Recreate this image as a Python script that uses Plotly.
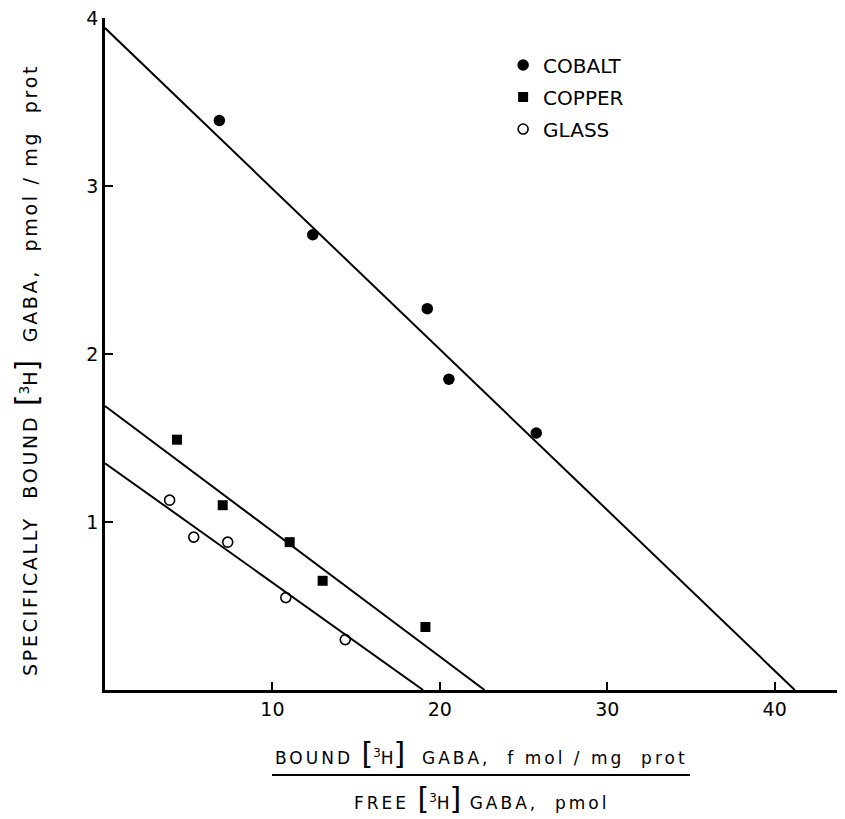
import plotly.graph_objects as go

# ---- data ----
cobalt_x = [6.83, 12.41, 19.25, 20.54, 25.76]
cobalt_y = [3.39, 2.71, 2.27, 1.85, 1.53]

copper_x = [4.30, 7.03, 11.03, 13.00, 19.14]
copper_y = [1.49, 1.10, 0.88, 0.65, 0.375]

glass_x = [3.86, 5.30, 7.33, 10.80, 14.35]
glass_y = [1.13, 0.91, 0.88, 0.55, 0.30]

# fitted lines: (y-intercept, x-intercept)
cobalt_fit = (3.94, 41.2)
copper_fit = (1.69, 22.67)
glass_fit = (1.35, 19.0)

x_ticks = [10, 20, 30, 40]
y_ticks = [1, 2, 3, 4]
x_range = [0, 44.2]
y_range = [0, 4.0]

FONT = "DejaVu Sans"
BLACK = "#000000"

fig = go.Figure()

for fit in (cobalt_fit, copper_fit, glass_fit):
    fig.add_trace(go.Scatter(
        x=[0, fit[1]], y=[fit[0], 0], mode="lines",
        line=dict(color=BLACK, width=2), showlegend=False, hoverinfo="skip"))

fig.add_trace(go.Scatter(
    x=cobalt_x, y=cobalt_y, mode="markers", name="COBALT", legendgroup="a",
    marker=dict(symbol="circle", size=11.5, color=BLACK)))
fig.add_trace(go.Scatter(
    x=copper_x, y=copper_y, mode="markers", name="COPPER", legendgroup="b",
    marker=dict(symbol="square", size=10, color=BLACK)))
fig.add_trace(go.Scatter(
    x=glass_x, y=glass_y, mode="markers", name="GLASS", legendgroup="c",
    marker=dict(symbol="circle-open", size=10, color=BLACK, line=dict(width=1.6))))

LS = "letter-spacing:2.7px"
LSX = "letter-spacing:3px"
BR = "font-size:30px"
y_title = (f"<span style='{LS}'>SPECIFICALLY  BOUND </span>"
           f"<span style='{BR}'>[</span><sup>3</sup>H<span style='{BR}'>]</span>"
           f"<span style='{LS}'>  GABA,  pmol / mg  prot</span>")
x_top = (f"<span style='{LSX}'>BOUND </span>"
         f"<span style='{BR}'>[</span><sup>3</sup>H<span style='{BR}'>]</span>"
         f"<span style='{LSX}'>  GABA,  f mol / mg  prot</span>")
x_bot = (f"<span style='{LSX}'>FREE </span>"
         f"<span style='{BR}'>[</span><sup>3</sup>H<span style='{BR}'>]</span>"
         f"<span style='{LSX}'> GABA,  pmol</span>")

# the page adds an 8px body margin, so the figure is 8px smaller than the window
fig.update_layout(
    width=837, height=811,
    margin=dict(l=97, r=0, t=10, b=129),
    paper_bgcolor="white", plot_bgcolor="white",
    font=dict(family=FONT, color=BLACK, size=19),
    showlegend=True,
    legend=dict(x=0.538, y=0.959, xanchor="left", yanchor="top",
                font=dict(family=FONT, size=20, color=BLACK),
                bgcolor="rgba(0,0,0,0)", tracegroupgap=3, itemwidth=30),
    xaxis=dict(range=x_range, tickvals=x_ticks, ticktext=[str(v) for v in x_ticks],
               showgrid=False, zeroline=False, showline=True, linecolor=BLACK,
               linewidth=2.5, ticks="inside", ticklen=8, tickwidth=2,
               tickcolor=BLACK, tickfont=dict(size=19, family=FONT),
               ticklabeloverflow="allow"),
    yaxis=dict(range=y_range, tickvals=y_ticks, ticktext=[str(v) for v in y_ticks],
               showgrid=False, zeroline=False, showline=True, linecolor=BLACK,
               linewidth=2.5, ticks="inside", ticklen=8, tickwidth=2,
               tickcolor=BLACK, tickfont=dict(size=19, family=FONT),
               ticklabeloverflow="allow"),
    annotations=[
        dict(text=y_title, xref="paper", yref="paper", x=-0.107, y=0.476,
             textangle=-90, showarrow=False, xanchor="center", yanchor="middle",
             font=dict(size=19, family=FONT)),
        dict(text=x_top, xref="paper", yref="paper", x=0.509, y=-0.094,
             showarrow=False, xanchor="center", yanchor="middle",
             font=dict(size=17, family=FONT)),
        dict(text=x_bot, xref="paper", yref="paper", x=0.509, y=-0.162,
             showarrow=False, xanchor="center", yanchor="middle",
             font=dict(size=17, family=FONT)),
    ],
    shapes=[dict(type="line", xref="paper", yref="paper",
                 x0=0.2257, x1=0.7905, y0=-0.1265, y1=-0.1265,
                 line=dict(color=BLACK, width=2))],
)

fig.write_html("out.html")
